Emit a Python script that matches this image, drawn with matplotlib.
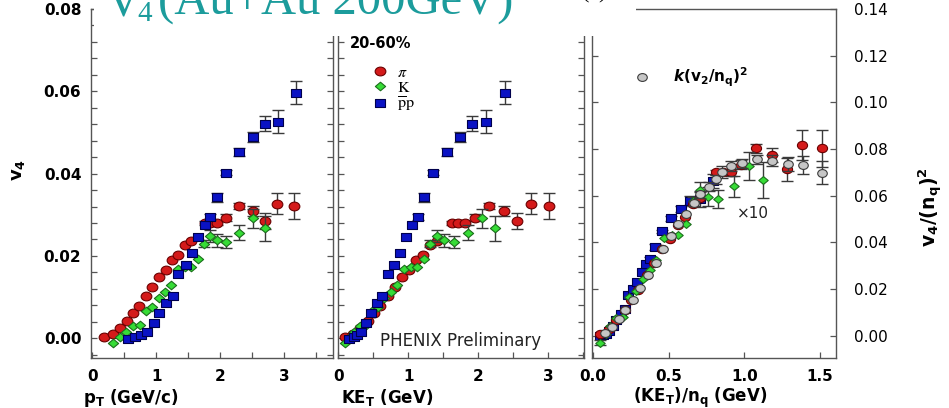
import numpy as np
import matplotlib
matplotlib.use('Agg')
import matplotlib.pyplot as plt
from matplotlib.path import Path
from matplotlib.patches import Rectangle
from matplotlib.ticker import MultipleLocator, FormatStrFormatter
from matplotlib.font_manager import FontProperties

plt.rcParams['font.family'] = ['DejaVu Sans']
plt.rcParams['mathtext.fontset'] = 'dejavusans'

# ---------------- data ----------------
# pions
pi_pt = [0.19, 0.32, 0.43, 0.54, 0.63, 0.73, 0.84, 0.94, 1.04, 1.15, 1.25, 1.35, 1.45, 1.54,
         1.76, 1.85, 1.95, 2.09, 2.30, 2.51, 2.70, 2.90, 3.16]
pi_ket = [0.10, 0.21, 0.31, 0.42, 0.51, 0.60, 0.71, 0.81, 0.91, 1.02, 1.12, 1.22, 1.32, 1.41,
          1.63, 1.72, 1.82, 1.96, 2.16, 2.37, 2.56, 2.76, 3.02]
pi_v4 = [0.0002, 0.0011, 0.0026, 0.0043, 0.0061, 0.0078, 0.0103, 0.0124, 0.0148, 0.0166, 0.0190,
         0.0203, 0.0226, 0.0236, 0.0280, 0.0280, 0.0280, 0.0293, 0.0321, 0.0309, 0.0285, 0.0327, 0.0321]
pi_err = [0, 0, 0, 0, 0, 0, 0, 0, 0, 0, 0, 0, 0, 0,
          0.0005, 0.0005, 0.0006, 0.0008, 0.0008, 0.0012, 0.0020, 0.0026, 0.0032]
# kaons
k_pt = [0.33, 0.44, 0.53, 0.63, 0.74, 0.84, 0.94, 1.04, 1.14, 1.24, 1.35, 1.45, 1.55, 1.65,
        1.75, 1.85, 1.95, 2.09, 2.30, 2.51, 2.70]
k_ket = [0.10, 0.17, 0.23, 0.31, 0.40, 0.48, 0.57, 0.66, 0.75, 0.84, 0.94, 1.04, 1.13, 1.23,
         1.32, 1.42, 1.52, 1.65, 1.86, 2.06, 2.25]
k_v4 = [-0.0012, 0.0002, 0.0016, 0.0030, 0.0032, 0.0066, 0.0077, 0.0097, 0.0113, 0.0129, 0.0168,
        0.0173, 0.0173, 0.0192, 0.0230, 0.0249, 0.0238, 0.0234, 0.0256, 0.0291, 0.0267]
k_err = [0, 0, 0, 0, 0, 0, 0, 0, 0, 0, 0, 0, 0, 0,
         0.0008, 0.0014, 0.0016, 0.0015, 0.0018, 0.0024, 0.0031]
# protons
p_pt = [0.56, 0.67, 0.76, 0.85, 0.96, 1.05, 1.16, 1.26, 1.35, 1.46, 1.56, 1.66, 1.76, 1.85,
        1.95, 2.10, 2.30, 2.51, 2.70, 2.91, 3.19]
p_ket = [0.16, 0.22, 0.27, 0.33, 0.40, 0.47, 0.55, 0.63, 0.71, 0.80, 0.88, 0.97, 1.06, 1.14,
         1.23, 1.36, 1.55, 1.74, 1.92, 2.12, 2.39]
p_v4 = [-0.0002, 0.0004, 0.0008, 0.0016, 0.0036, 0.0062, 0.0085, 0.0103, 0.0155, 0.0179, 0.0206,
        0.0245, 0.0276, 0.0295, 0.0342, 0.0402, 0.0453, 0.0488, 0.0521, 0.0526, 0.0596]
p_err = [0, 0, 0, 0, 0, 0, 0, 0, 0, 0, 0, 0, 0,
         0.0008, 0.0010, 0.0006, 0.0009, 0.0012, 0.0018, 0.0028, 0.0028]

# panel 3: (KE_T)/n_q  vs  v4/(n_q)^2 (x10)
pi_x3 = [0.05, 0.105, 0.155, 0.21, 0.255, 0.30, 0.355, 0.405, 0.455, 0.51, 0.56, 0.61, 0.66, 0.705,
         0.815, 0.86, 0.91, 0.98, 1.08, 1.185, 1.28, 1.38, 1.51]
pi_y3 = [0.0005, 0.0028, 0.0065, 0.0108, 0.0153, 0.0195, 0.0258, 0.0310, 0.0370, 0.0415, 0.0475,
         0.0508, 0.0565, 0.0590, 0.0700, 0.0700, 0.0700, 0.0733, 0.0803, 0.0773, 0.0713, 0.0818, 0.0803]
pi_e3 = [0, 0, 0, 0, 0, 0, 0, 0, 0, 0, 0, 0, 0, 0,
         0.0012, 0.0012, 0.0015, 0.0020, 0.0020, 0.0030, 0.0050, 0.0065, 0.0080]
k_x3 = [0.05, 0.085, 0.115, 0.155, 0.20, 0.24, 0.285, 0.33, 0.375, 0.42, 0.47, 0.52, 0.565, 0.615,
        0.66, 0.71, 0.76, 0.825, 0.93, 1.03, 1.125]
k_y3 = [-0.0030, 0.0005, 0.0040, 0.0075, 0.0080, 0.0165, 0.0193, 0.0243, 0.0283, 0.0323, 0.0420,
        0.0433, 0.0433, 0.0480, 0.0575, 0.0623, 0.0595, 0.0585, 0.0640, 0.0728, 0.0668]
k_e3 = [0.0012, 0, 0, 0, 0, 0, 0, 0, 0, 0, 0, 0, 0, 0,
        0.0020, 0.0035, 0.0040, 0.0038, 0.0045, 0.0060, 0.0078]
p_x3 = [0.05, 0.07, 0.09, 0.11, 0.135, 0.155, 0.185, 0.21, 0.235, 0.265, 0.295, 0.325, 0.35, 0.38,
        0.41, 0.455, 0.515, 0.58, 0.64, 0.705, 0.795]
p_y3 = [-0.0002, 0.0004, 0.0009, 0.0018, 0.0040, 0.0069, 0.0094, 0.0114, 0.0172, 0.0199, 0.0229,
        0.0272, 0.0307, 0.0328, 0.0380, 0.0447, 0.0503, 0.0542, 0.0579, 0.0584, 0.0662]
p_e3 = [0, 0, 0, 0, 0, 0, 0, 0, 0, 0, 0, 0, 0,
        0.0009, 0.0011, 0.0007, 0.0010, 0.0013, 0.0020, 0.0031, 0.0031]
g_x3 = [0.08, 0.125, 0.17, 0.215, 0.265, 0.315, 0.365, 0.415, 0.465, 0.515, 0.56, 0.615, 0.665,
        0.71, 0.765, 0.81, 0.855, 0.91, 0.985, 1.085, 1.185, 1.29, 1.385, 1.515]
g_y3 = [0.0010, 0.0035, 0.0072, 0.0110, 0.0153, 0.0203, 0.0260, 0.0313, 0.0371, 0.0429, 0.0479,
        0.0522, 0.0567, 0.0605, 0.0638, 0.0670, 0.0700, 0.0727, 0.0738, 0.0756, 0.0750, 0.0735,
        0.0732, 0.0698]
g_e3 = [0, 0, 0, 0, 0, 0, 0, 0, 0, 0, 0, 0, 0.0010, 0.0015, 0.0020, 0.0020, 0.0025, 0.0020,
        0.0020, 0.0020, 0.0025, 0.0030, 0.0040, 0.0050]

x1_ticks = [0, 1, 2, 3]
x3_ticks = [0.0, 0.5, 1.0, 1.5]

# ---------------- styling ----------------
W, H = 949, 408
fig = plt.figure(figsize=(W / 100, H / 100), dpi=100)


def fx(px):
    return px / W


def fy(py):
    return 1 - py / H


SX = 1.22
uc = Path.unit_circle()
CIRC = Path(uc.vertices * np.array([SX, 1.0]), uc.codes)
SQR = Path(np.array([[-1.15, -1], [1.15, -1], [1.15, 1], [-1.15, 1], [-1.15, -1]]), closed=True)
DIAM = Path(np.array([[0, -1], [1.2, 0], [0, 1], [-1.2, 0], [0, -1]]), closed=True)

RED = ('#d41a1a', '#6a0000')
GRN = ('#36dc36', '#1c6e1c')
BLU = ('#0a12c4', '#00004d')
GRY = ('#c6c6c6', '#3c3c3c')
SPC = '#555555'
TEAL = '#1c9c9c'


def series(ax, x, y, e, marker, ms, col, z, label=None):
    x = np.asarray(x); y = np.asarray(y); e = np.asarray(e)
    m = e > 0
    if m.any():
        ax.errorbar(x[m], y[m], yerr=e[m], fmt='none', ecolor='#3a3a3a', elinewidth=1.0,
                    capsize=4.2, capthick=1.0, zorder=z)
    ln, = ax.plot(x, y, ls='none', marker=marker, ms=ms, mfc=col[0], mec=col[1], mew=0.8,
                  zorder=z + 0.5, label=label)
    return ln


def style(ax):
    for s in ax.spines.values():
        s.set_color(SPC)
        s.set_linewidth(1.0)
    ax.tick_params(which='both', direction='in', length=4.5, width=0.9, color=SPC,
                   left=True, right=True, top=False, bottom=True, labelsize=11)
    for lab in ax.get_xticklabels() + ax.get_yticklabels():
        lab.set_fontweight('bold')


bot, top = 358, 9
ax1 = fig.add_axes([fx(91), fy(bot), fx(333) - fx(91), fy(top) - fy(bot)])
ax2 = fig.add_axes([fx(337.5), fy(bot), fx(583.5) - fx(337.5), fy(top) - fy(bot)])
ax3 = fig.add_axes([fx(592), fy(bot), fx(836) - fx(592), fy(top) - fy(bot)])

# panel 1
series(ax1, pi_pt, pi_v4, pi_err, CIRC, 7.7, RED, 3)
series(ax1, k_pt, k_v4, k_err, DIAM, 7.4, GRN, 4)
series(ax1, p_pt, p_v4, p_err, SQR, 6.8, BLU, 5)
# panel 2
h_pi = series(ax2, pi_ket, pi_v4, pi_err, CIRC, 7.7, RED, 3, r'$\pi$')
h_k = series(ax2, k_ket, k_v4, k_err, DIAM, 7.4, GRN, 4, r'$\mathrm{K}$')
h_p = series(ax2, p_ket, p_v4, p_err, SQR, 6.8, BLU, 5, r'$\overline{\mathrm{p}}\mathrm{p}$')
# panel 3
series(ax3, p_x3, p_y3, p_e3, SQR, 6.6, BLU, 3)
series(ax3, pi_x3, pi_y3, pi_e3, CIRC, 7.3, RED, 4)
series(ax3, k_x3, k_y3, k_e3, DIAM, 6.8, GRN, 5)
h_g = series(ax3, g_x3, g_y3, g_e3, CIRC, 6.9, GRY, 6,
             r'$\mathbfit{k}$(v$_\mathbf{2}$/n$_\mathbf{q}$)$^\mathbf{2}$')

for ax in (ax1, ax2):
    ax.set_ylim(-0.0048, 0.0800)
    ax.yaxis.set_major_locator(MultipleLocator(0.02))
    ax.yaxis.set_minor_locator(MultipleLocator(0.004))
    ax.xaxis.set_major_locator(plt.FixedLocator(x1_ticks))
    ax.xaxis.set_minor_locator(MultipleLocator(0.5))
    ax.xaxis.set_major_formatter(FormatStrFormatter('%d'))
ax1.set_xlim(-0.02, 3.77)
ax2.set_xlim(-0.01, 3.51)
ax1.yaxis.set_major_formatter(FormatStrFormatter('%.2f'))
ax2.tick_params(labelleft=False)

ax3.set_xlim(-0.005, 1.605)
ax3.set_ylim(-0.0096, 0.140)
ax3.yaxis.set_major_locator(MultipleLocator(0.02))
ax3.yaxis.set_major_formatter(FormatStrFormatter('%.2f'))
ax3.xaxis.set_major_locator(plt.FixedLocator(x3_ticks))
ax3.xaxis.set_major_formatter(FormatStrFormatter('%.1f'))

for ax in (ax1, ax2, ax3):
    style(ax)
ax1.tick_params(axis='y', pad=7)
ax3.tick_params(axis='y', labelleft=False, labelright=True, pad=13)
for ax in (ax1, ax2, ax3):
    ax.tick_params(axis='x', pad=8)

# legends
lp = FontProperties(family='DejaVu Sans', size=11.5, math_fontfamily='stix')
ax2.legend(handles=[h_pi, h_k, h_p], loc='upper left', bbox_to_anchor=(fx(371), fy(65)),
           bbox_transform=fig.transFigure, frameon=False, borderpad=0, borderaxespad=0,
           handlelength=1.1, handletextpad=0.5, labelspacing=0.0, prop=lp)
gp = FontProperties(family='DejaVu Sans', size=11, weight='bold')
ax3.legend(handles=[h_g], loc='upper left', bbox_to_anchor=(fx(633), fy(66)),
           bbox_transform=fig.transFigure, frameon=False, borderpad=0, borderaxespad=0,
           handlelength=1.2, handletextpad=1.4, prop=gp)

# text annotations
fig.text(fx(350), fy(44), '20-60%', fontsize=10.5, fontweight='bold', ha='left', va='center')
fig.text(fx(461), fy(341), 'PHENIX Preliminary', fontsize=12, color='#222222',
         ha='center', va='center')
fig.text(fx(753), fy(214), '×10', fontsize=11, color='#222222', ha='center', va='center')

# axis labels
fig.text(fx(18), fy(170), r'v$_\mathbf{4}$', rotation=90, fontsize=13, fontweight='bold',
         ha='center', va='center')
fig.text(fx(931), fy(207), r'v$_\mathbf{4}$/(n$_\mathbf{q}$)$^\mathbf{2}$', rotation=90,
         fontsize=13.5, fontweight='bold', ha='center', va='center')
fig.text(fx(131), fy(398), r'p$_\mathbf{T}$ (GeV/c)', fontsize=12, fontweight='bold',
         ha='center', va='center')
fig.text(fx(387), fy(398), r'KE$_\mathbf{T}$ (GeV)', fontsize=12, fontweight='bold',
         ha='center', va='center')
fig.text(fx(700), fy(398), r'(KE$_\mathbf{T}$)/n$_\mathbf{q}$ (GeV)', fontsize=12,
         fontweight='bold', ha='center', va='center')

# slide title box covering top of the panels
fig.patches.append(Rectangle((fx(94), fy(36)), fx(636) - fx(94), 1 - fy(36),
                             transform=fig.transFigure, facecolor='white', edgecolor='none',
                             zorder=10))
tf = 'Liberation Serif'
fig.text(fx(106), fy(15), 'V', fontsize=35, family=tf, color=TEAL, ha='left', va='baseline',
         zorder=11)
fig.text(fx(137), fy(21), '4', fontsize=21, family=tf, color=TEAL, ha='left', va='baseline',
         zorder=11)
fig.text(fx(158), fy(15), '(Au+Au 200GeV)', fontsize=35, family=tf, color=TEAL, ha='left',
         va='baseline', zorder=11)
fig.text(fx(582), fy(-2), '(', fontsize=16, family=tf, color='black', ha='left',
         va='baseline', zorder=11)
fig.text(fx(598), fy(-2), ')', fontsize=16, family=tf, color='black', ha='left',
         va='baseline', zorder=11)

fig.savefig('out.png', dpi=100, facecolor='white')
